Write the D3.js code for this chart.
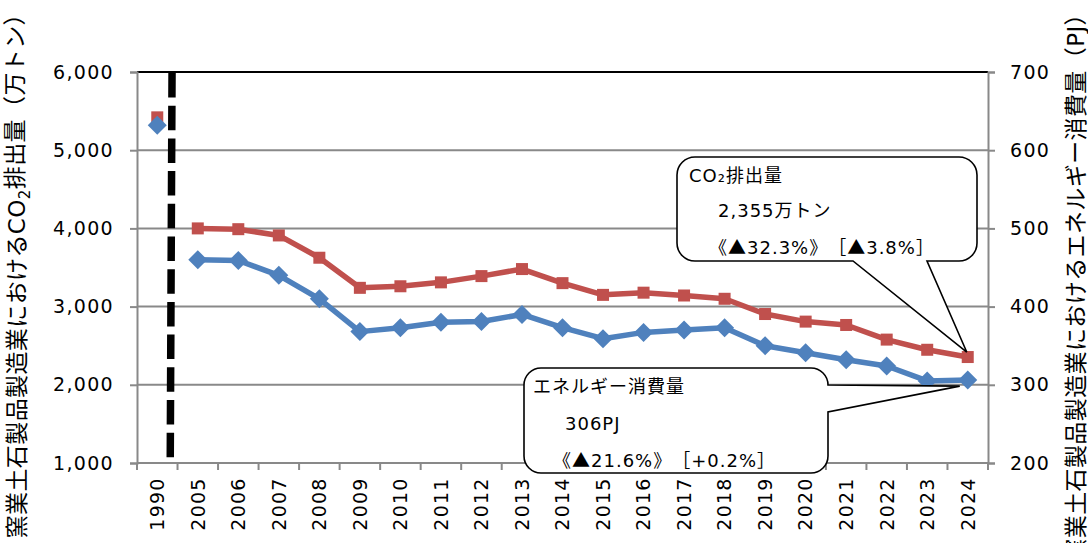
<!DOCTYPE html>
<html>
<head>
<meta charset="utf-8">
<script src="https://cdn.jsdelivr.net/npm/d3@7"></script>
<style>
  html, body { margin: 0; padding: 0; background: #fff; }
  svg { display: block; }
  text { font-family: "DejaVu Sans", "Noto Sans CJK JP", sans-serif; fill: #000; text-spacing-trim: space-all; }
</style>
</head>
<body>
<svg id="chart" width="1088" height="543"></svg>
<script>
// ---- data ----
const categories = ["1990","2005","2006","2007","2008","2009","2010","2011","2012","2013","2014","2015","2016","2017","2018","2019","2020","2021","2022","2023","2024"];
const co2Values = [5420, 4000, 3990, 3910, 3625, 3240, 3260, 3310, 3390, 3480, 3300, 3150, 3178, 3142, 3100, 2905, 2808, 2765, 2578, 2448, 2355];
const energyValues = [632, 460, 459, 440, 410, 368, 373, 380, 381, 390, 373, 359, 367, 370, 373, 350, 341, 332, 324, 305, 306];
const leftTicks = [1000, 2000, 3000, 4000, 5000, 6000];
const rightTicks = [200, 300, 400, 500, 600, 700];
const leftTitleParts = ["窯業土石製品製造業におけるCO", "2", "排出量（万トン）"];
const rightTitle = "窯業土石製品製造業におけるエネルギー消費量（PJ）";
const co2Callout = ["CO₂排出量", "2,355万トン", "《▲32.3%》［▲3.8%］"];
const energyCallout = ["エネルギー消費量", "306PJ", "《▲21.6%》［+0.2%］"];

// ---- layout ----
const svg = d3.select("#chart");
const L = 137, R = 988, T = 72, B = 463;
const x = d3.scaleBand().domain(categories).range([L, R]).padding(0);
const yL = d3.scaleLinear().domain([1000, 6000]).range([B, T]);
const yR = d3.scaleLinear().domain([200, 700]).range([B, T]);
const cx = d => x(d) + x.bandwidth() / 2;
const gridColor = "#898989";
const red = "#C0504D", blue = "#4F81BD";
const cjkChars = "《》［］▲";

// gridlines
svg.append("g").selectAll("line").data(leftTicks.filter(v => v > 1000 && v < 6000)).join("line")
  .attr("x1", L).attr("x2", R).attr("y1", d => yL(d)).attr("y2", d => yL(d))
  .attr("stroke", gridColor).attr("stroke-width", 2);
// top border
svg.append("line").attr("x1", L).attr("x2", R).attr("y1", yL(6000)).attr("y2", yL(6000))
  .attr("stroke", "#000").attr("stroke-width", 2.2);

// left axis
const leftAxis = d3.axisLeft(yL).tickValues(leftTicks).tickSize(7).tickFormat(d3.format(","));
const gL = svg.append("g").attr("transform", `translate(${L},0)`).call(leftAxis);
gL.select(".domain").attr("stroke", gridColor).attr("stroke-width", 2);
gL.selectAll(".tick line").attr("stroke", gridColor).attr("stroke-width", 2);
gL.selectAll(".tick text").attr("font-size", 19).style("letter-spacing", "1.3px")
  .attr("x", -23).attr("fill", "#000").attr("font-family", "DejaVu Sans");

// right axis
const rightAxis = d3.axisRight(yR).tickValues(rightTicks).tickSize(7);
const gR = svg.append("g").attr("transform", `translate(${R},0)`).call(rightAxis);
gR.select(".domain").attr("stroke", gridColor).attr("stroke-width", 2);
gR.selectAll(".tick line").attr("stroke", gridColor).attr("stroke-width", 2);
gR.selectAll(".tick text").attr("font-size", 19).style("letter-spacing", "1.3px")
  .attr("x", 22).attr("fill", "#000").attr("font-family", "DejaVu Sans");

// bottom axis: ticks at category boundaries
svg.append("line").attr("x1", L).attr("x2", R).attr("y1", B).attr("y2", B)
  .attr("stroke", gridColor).attr("stroke-width", 2);
const bounds = categories.map(c => x(c)).concat([R]);
svg.append("g").selectAll("line").data(bounds).join("line")
  .attr("x1", d => d).attr("x2", d => d).attr("y1", B).attr("y2", B + 7)
  .attr("stroke", gridColor).attr("stroke-width", 2);
svg.append("g").selectAll("text").data(categories).join("text")
  .attr("transform", d => `translate(${cx(d)},477.5) rotate(-90)`)
  .attr("text-anchor", "end").attr("dy", "0.36em")
  .attr("font-size", 19).style("letter-spacing", "1.2px").attr("font-family", "DejaVu Sans")
  .text(d => d);

// dashed divider between 1990 and 2005
const dx = x("2005") - x.bandwidth() * 0.16;
svg.append("line").attr("x1", dx + 1).attr("x2", dx - 0.8).attr("y1", T + 1).attr("y2", B - 2)
  .attr("stroke", "#000").attr("stroke-width", 7.5).attr("stroke-dasharray", "24.5 8.2");

// series
const defined = (d, i) => i > 0;
const lineL = d3.line().defined(defined).x((d, i) => cx(categories[i])).y(d => yL(d));
const lineR = d3.line().defined(defined).x((d, i) => cx(categories[i])).y(d => yR(d));

svg.append("path").datum(co2Values).attr("d", lineL)
  .attr("fill", "none").attr("stroke", red).attr("stroke-width", 5.5).attr("stroke-linejoin", "round");
svg.append("g").selectAll("rect").data(co2Values).join("rect")
  .attr("x", (d, i) => cx(categories[i]) - 6).attr("y", d => yL(d) - 6)
  .attr("width", 12).attr("height", 12).attr("fill", red);

svg.append("path").datum(energyValues).attr("d", lineR)
  .attr("fill", "none").attr("stroke", blue).attr("stroke-width", 5.5).attr("stroke-linejoin", "round");
const diamond = 9.5;
svg.append("g").selectAll("path").data(energyValues).join("path")
  .attr("d", (d, i) => {
    const px = cx(categories[i]), py = yR(d);
    return `M${px},${py - diamond}L${px + diamond},${py}L${px},${py + diamond}L${px - diamond},${py}Z`;
  })
  .attr("fill", blue);

// titles
const lt = svg.append("text").attr("transform", "translate(17,2) rotate(-90)")
  .attr("text-anchor", "end").attr("dy", "0.36em").attr("font-size", 23).style("letter-spacing", "0.4px");
lt.append("tspan").text(leftTitleParts[0]);
lt.append("tspan").attr("font-size", 15).attr("dy", "0.3em").text(leftTitleParts[1]);
lt.append("tspan").attr("dy", "-0.3em").text(leftTitleParts[2]);

svg.append("text").attr("transform", "translate(1076,2) rotate(-90)")
  .attr("text-anchor", "end").attr("dy", "0.36em").attr("font-size", 23).style("letter-spacing", "0.4px")
  .text(rightTitle);

// callouts
function calloutBottom(x0, y0, x1, y1, r, pa, pb, tx, ty) {
  return `M${x0 + r},${y0}H${x1 - r}A${r},${r} 0 0 1 ${x1},${y0 + r}V${y1 - r}A${r},${r} 0 0 1 ${x1 - r},${y1}` +
    `H${pb}L${tx},${ty}L${pa},${y1}H${x0 + r}A${r},${r} 0 0 1 ${x0},${y1 - r}V${y0 + r}A${r},${r} 0 0 1 ${x0 + r},${y0}Z`;
}
function calloutRight(x0, y0, x1, y1, r, pa, pb, tx, ty) {
  return `M${x0 + r},${y0}H${x1 - r}A${r},${r} 0 0 1 ${x1},${y0 + r}V${pa}L${tx},${ty}L${x1},${pb}` +
    `V${y1 - r}A${r},${r} 0 0 1 ${x1 - r},${y1}H${x0 + r}A${r},${r} 0 0 1 ${x0},${y1 - r}V${y0 + r}A${r},${r} 0 0 1 ${x0 + r},${y0}Z`;
}
const last = categories.length - 1;
const tipCo2X = cx(categories[last]) - 1, tipCo2Y = yL(co2Values[last]) - 5;
const tipEnX = cx(categories[last]) - 8, tipEnY = yR(energyValues[last]) + 6;

svg.append("path").attr("d", calloutBottom(677, 157, 977, 261, 18, 853, 927, tipCo2X, tipCo2Y))
  .attr("fill", "#fff").attr("stroke", "#000").attr("stroke-width", 1.6);
svg.append("path").attr("d", calloutRight(524, 368, 828, 473, 17, 385, 412, tipEnX, tipEnY))
  .attr("fill", "#fff").attr("stroke", "#000").attr("stroke-width", 1.6);

function calloutText(lines, pos) {
  lines.forEach((t, i) => {
    const txt = svg.append("text").attr("x", pos[i][0]).attr("y", pos[i][1])
      .attr("font-size", 18).style("letter-spacing", "1px");
    // split into runs: CJK punctuation / symbols use the CJK font (full-width)
    const runs = [];
    for (const ch of t) {
      const isCjk = cjkChars.includes(ch);
      if (runs.length && runs[runs.length - 1].cjk === isCjk) runs[runs.length - 1].s += ch;
      else runs.push({ s: ch, cjk: isCjk });
    }
    runs.forEach(r => {
      const ts = txt.append("tspan").text(r.s);
      if (r.cjk) ts.attr("font-family", "Noto Sans CJK JP");
    });
  });
}
calloutText(co2Callout, [[689, 182], [718, 217], [709, 254]]);
calloutText(energyCallout, [[533, 393], [565, 430], [553, 467]]);
</script>
</body>
</html>
